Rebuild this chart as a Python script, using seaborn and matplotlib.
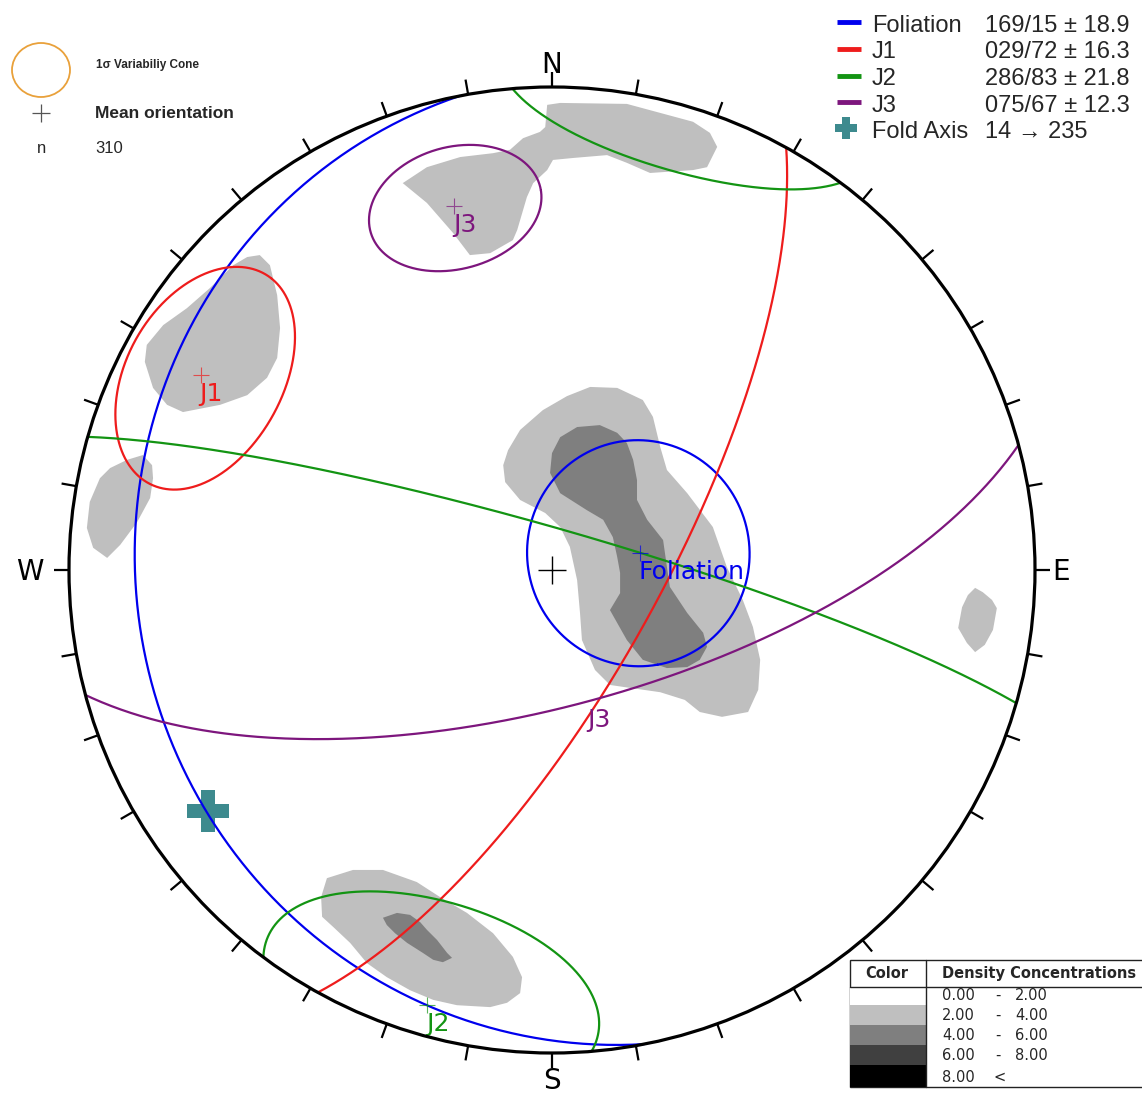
import numpy as np
import matplotlib
matplotlib.use("Agg")
import matplotlib.pyplot as plt
import seaborn as sns
from matplotlib.patches import Circle, Ellipse, Rectangle

# ---------------------------------------------------------------------------
# Mean planes (strike / dip, right-hand rule) and 1-sigma cone half-angles
plane_names = ["Foliation", "J1", "J2", "J3"]
plane_strike = [169, 29, 286, 75]
plane_dip = [15, 72, 83, 67]
cone_sigma = [18.9, 16.3, 21.8, 12.3]
plane_colors = ["#0000ee", "#ee1c1c", "#139413", "#7d167d"]

# Fold axis (plunge -> trend)
fold_plunge = 14
fold_trend = 235
fold_color = "#3d8a8e"

n_poles = 310

# Density classes
density_low = [0.00, 2.00, 4.00, 6.00, 8.00]
density_high = [2.00, 4.00, 6.00, 8.00, None]
density_colors = ["#ffffff", "#bfbfbf", "#7f7f7f", "#404040", "#000000"]

# Density contour outlines, equal-area net coordinates (primitive radius = 1)
contours_2_4 = [
    # N cluster joined to the J3 cluster
    [(-0.010, 0.963), (0.017, 0.967), (0.155, 0.965), (0.292, 0.928), (0.327, 0.905),
     (0.342, 0.876), (0.321, 0.834), (0.292, 0.828), (0.203, 0.822), (0.155, 0.843),
     (0.114, 0.859), (0.043, 0.853), (0.002, 0.849), (-0.010, 0.828), (-0.039, 0.801),
     (-0.052, 0.772), (-0.072, 0.704), (-0.081, 0.683), (-0.128, 0.656), (-0.170, 0.652),
     (-0.205, 0.698), (-0.259, 0.760), (-0.309, 0.801), (-0.259, 0.834), (-0.190, 0.855),
     (-0.122, 0.863), (-0.087, 0.870), (-0.060, 0.894), (-0.025, 0.907), (-0.014, 0.917)],
    # J1 cluster
    [(-0.605, 0.652), (-0.584, 0.631), (-0.569, 0.569), (-0.563, 0.501), (-0.569, 0.439),
     (-0.590, 0.398), (-0.631, 0.362), (-0.687, 0.342), (-0.764, 0.327), (-0.797, 0.342),
     (-0.826, 0.377), (-0.843, 0.431), (-0.839, 0.466), (-0.805, 0.507), (-0.756, 0.542),
     (-0.708, 0.584), (-0.660, 0.631), (-0.631, 0.648)],
    # W cluster
    [(-0.847, 0.238), (-0.828, 0.217), (-0.826, 0.190), (-0.832, 0.149), (-0.859, 0.099),
     (-0.894, 0.052), (-0.921, 0.025), (-0.950, 0.046), (-0.963, 0.087), (-0.957, 0.141),
     (-0.936, 0.190), (-0.915, 0.211), (-0.880, 0.228)],
    # E cluster
    [(0.876, -0.037), (0.892, -0.046), (0.911, -0.062), (0.921, -0.079), (0.913, -0.124),
     (0.896, -0.155), (0.876, -0.170), (0.859, -0.151), (0.841, -0.120), (0.849, -0.077),
     (0.861, -0.052)],
    # S cluster (J2)
    [(-0.466, -0.638), (-0.412, -0.621), (-0.350, -0.621), (-0.280, -0.646), (-0.232, -0.677),
     (-0.176, -0.710), (-0.122, -0.752), (-0.081, -0.801), (-0.062, -0.843), (-0.066, -0.876),
     (-0.093, -0.896), (-0.128, -0.905), (-0.197, -0.901), (-0.246, -0.890), (-0.294, -0.870),
     (-0.342, -0.843), (-0.383, -0.814), (-0.418, -0.772), (-0.453, -0.739), (-0.476, -0.718),
     (-0.478, -0.677)],
    # central cluster (foliation poles)
    [(0.079, 0.379), (0.135, 0.377), (0.188, 0.352), (0.209, 0.317), (0.224, 0.255),
     (0.238, 0.207), (0.280, 0.159), (0.333, 0.089), (0.362, 0.006), (0.395, -0.062),
     (0.416, -0.118), (0.431, -0.186), (0.427, -0.248), (0.406, -0.294), (0.352, -0.304),
     (0.306, -0.294), (0.275, -0.269), (0.224, -0.253), (0.161, -0.244), (0.120, -0.238),
     (0.089, -0.207), (0.062, -0.145), (0.058, -0.089), (0.052, -0.021), (0.037, 0.048),
     (0.017, 0.089), (-0.014, 0.118), (-0.066, 0.145), (-0.097, 0.182), (-0.101, 0.217),
     (-0.091, 0.248), (-0.066, 0.290), (-0.019, 0.331), (0.031, 0.360)],
]
contours_4_6 = [
    [(0.052, 0.296), (0.099, 0.300), (0.135, 0.284), (0.155, 0.263), (0.168, 0.228),
     (0.176, 0.186), (0.176, 0.145), (0.197, 0.104), (0.230, 0.062), (0.238, 0.006),
     (0.244, -0.035), (0.280, -0.089), (0.313, -0.130), (0.321, -0.159), (0.306, -0.186),
     (0.280, -0.201), (0.238, -0.203), (0.188, -0.186), (0.155, -0.145), (0.120, -0.083),
     (0.141, -0.048), (0.141, -0.006), (0.135, 0.027), (0.126, 0.068), (0.106, 0.104),
     (0.072, 0.124), (0.017, 0.159), (-0.004, 0.201), (0.000, 0.242), (0.017, 0.275)],
    [(-0.350, -0.720), (-0.321, -0.710), (-0.294, -0.714), (-0.273, -0.729), (-0.259, -0.745),
     (-0.238, -0.766), (-0.217, -0.793), (-0.207, -0.803), (-0.226, -0.812), (-0.246, -0.807),
     (-0.267, -0.793), (-0.300, -0.772), (-0.325, -0.752), (-0.342, -0.735)],
]


# ---------------------------------------------------------------------------
# Equal-area (Schmidt) lower-hemisphere projection helpers
def dir_vec(trend, plunge):
    t, p = np.radians(trend), np.radians(plunge)
    return np.array([np.cos(p) * np.sin(t), np.cos(p) * np.cos(t), np.sin(p)])


def schmidt(v):
    e, n, d = v
    s = 1.0 / np.sqrt(1.0 + d)
    return e * s, n * s


def great_circle(strike, dip, n=361):
    th = np.linspace(0, np.pi, n)
    s = dir_vec(strike, 0)
    dv = dir_vec(strike + 90, dip)
    v = np.outer(s, np.cos(th)) + np.outer(dv, np.sin(th))
    return schmidt(v)


def small_circle(trend, plunge, angle, n=1440):
    p = dir_vec(trend, plunge)
    a = np.cross(p, [0.0, 0.0, 1.0])
    a /= np.linalg.norm(a)
    b = np.cross(p, a)
    th = np.linspace(0, 2 * np.pi, n, endpoint=False)
    ang = np.radians(angle)
    v = np.cos(ang) * p[:, None] + np.sin(ang) * (np.outer(a, np.cos(th)) + np.outer(b, np.sin(th)))
    up = v[2] < 0
    v[:, up] *= -1
    if up.any() and not up.all():
        k = int(np.argmax(up != np.roll(up, 1)))
        v = np.roll(v, -k, axis=1)
        up = np.roll(up, -k)
        breaks = np.where(up[1:] != up[:-1])[0] + 1
        pieces = np.split(np.arange(n), breaks)
    else:
        pieces = [np.r_[np.arange(n), 0]]
    return [schmidt(v[:, idx]) for idx in pieces]


# pixel-layout helper (figure is 1142 x 1095, net centre and radius in pixels)
CX, CY, RPX = 552, 570, 483


def P(x, y):
    return (x - CX) / RPX, (CY - y) / RPX


# ---------------------------------------------------------------------------
sns.set_theme(style="white")
plt.rcParams["font.family"] = ["DejaVu Sans"]
ARIAL = ["Liberation Sans", "DejaVu Sans"]

fig = plt.figure(figsize=(11.42, 10.95), dpi=100)
ax = fig.add_axes([0, 0, 1, 1])
ax.set_xlim(-CX / RPX, (1142 - CX) / RPX)
ax.set_ylim(-(1095 - CY) / RPX, CY / RPX)
ax.axis("off")

# density contours
for poly in contours_2_4:
    xs, ys = zip(*poly)
    ax.fill(xs, ys, color=density_colors[1], lw=0, zorder=1)
for poly in contours_4_6:
    xs, ys = zip(*poly)
    ax.fill(xs, ys, color=density_colors[2], lw=0, zorder=2)

# fold axis
fx, fy = schmidt(dir_vec(fold_trend, fold_plunge)[:, None])
ax.plot(fx, fy, marker="P", ms=30, color=fold_color, mew=0, zorder=3)

# great circles, poles and cones
for name, strike, dip, sig, col in zip(plane_names, plane_strike, plane_dip, cone_sigma, plane_colors):
    gx, gy = great_circle(strike, dip)
    sns.lineplot(x=gx, y=gy, sort=False, estimator=None, color=col, lw=1.6, ax=ax, legend=False, zorder=4)
    ptr, ppl = (strike - 90) % 360, 90 - dip
    for cx_, cy_ in small_circle(ptr, ppl, sig):
        sns.lineplot(x=cx_, y=cy_, sort=False, estimator=None, color=col, lw=1.6, ax=ax, legend=False, zorder=4)
    px_, py_ = schmidt(dir_vec(ptr, ppl)[:, None])
    ax.plot(px_, py_, marker="+", ms=11, mew=0.8, color=col, alpha=0.7, zorder=5)
    ax.annotate(name, xy=(px_[0], py_[0]), xytext=(-1, -5), textcoords="offset points",
                ha="left", va="top", fontsize=18, color=col, zorder=6)

# J1 / J3 intersection label
l13 = np.cross(dir_vec((plane_strike[1] - 90) % 360, 90 - plane_dip[1]),
               dir_vec((plane_strike[3] - 90) % 360, 90 - plane_dip[3]))
if l13[2] < 0:
    l13 = -l13
l13 /= np.linalg.norm(l13)
ix, iy = schmidt(l13[:, None])
ax.annotate("J3", xy=(ix[0], iy[0]), xytext=(-1, -7), textcoords="offset points",
            ha="center", va="top", fontsize=18, color=plane_colors[3], zorder=6)

# mean orientation mark at the centre
ax.plot(0, 0, marker="+", ms=20, mew=1.0, color="black", zorder=6)

# primitive circle with 10-degree ticks
ax.add_patch(Circle((0, 0), 1.0, fill=False, lw=2.3, color="black", zorder=7))
for az in range(0, 360, 10):
    s, c = np.sin(np.radians(az)), np.cos(np.radians(az))
    ax.plot([s, 1.031 * s], [c, 1.031 * c], color="black", lw=1.6, zorder=7, solid_capstyle="butt")

for lab, (x, y), ha in [("N", (552, 73), "center"), ("S", (552, 1089), "center"),
                        ("W", (44, 580), "right"), ("E", (1052, 580), "left")]:
    ax.text(*P(x, y), lab, ha=ha, va="baseline", fontsize=20, color="black")

# top-left key
ax.add_patch(Ellipse(P(41, 70), 58 / RPX, 54 / RPX, fill=False, lw=1.3, color="#e9a13b"))
ax.text(*P(96, 68), "1σ Variabiliy Cone", family=ARIAL, fontweight="bold", fontsize=8.5,
        va="baseline", ha="left")
ax.plot(*P(41, 113), marker="+", ms=13, mew=0.9, color="#555555")
ax.text(*P(95, 118), "Mean orientation", family=ARIAL, fontweight="bold", fontsize=12.5,
        va="baseline", ha="left")
ax.text(*P(42, 153), "n", family=ARIAL, fontsize=12, va="baseline", ha="center")
ax.text(*P(95, 153), str(n_poles), family=ARIAL, fontsize=12, va="baseline", ha="left")

# top-right key
rows = [31.5, 58.2, 85.0, 111.5]
for name, strike, dip, sig, col, yb in zip(plane_names, plane_strike, plane_dip, cone_sigma, plane_colors, rows):
    x0, yl = P(837, yb - 9.5)
    x1, _ = P(861, yb - 9.5)
    ax.plot([x0, x1], [yl, yl], color=col, lw=3.5, solid_capstyle="butt")
    ax.text(*P(872, yb), name, family=ARIAL, fontsize=17, va="baseline", ha="left")
    ax.text(*P(985, yb), f"{strike:03d}/{dip:02d} ± {sig}", family=ARIAL, fontsize=17,
            va="baseline", ha="left")
ax.plot(*P(846, 128), marker="P", ms=16, color=fold_color, mew=0)
ax.text(*P(872, 137.5), "Fold Axis", family=ARIAL, fontsize=17, va="baseline", ha="left")
ax.text(*P(985, 137.5), f"{fold_plunge} → {fold_trend}", family=ARIAL, fontsize=17,
        va="baseline", ha="left")

# density table
tl, tr, tt, tb = 850, 1150, 960, 1087
ax.add_patch(Rectangle(P(tl, tb), (tr - tl) / RPX, (tb - tt) / RPX, fill=True,
                       facecolor="white", edgecolor="#222222", lw=1.0, zorder=8))
row_edges = [987, 1005, 1025, 1045, 1065, 1087]
for i, colr in enumerate(density_colors):
    y0, y1 = row_edges[i], row_edges[i + 1]
    ax.add_patch(Rectangle(P(tl, y1), (926 - tl) / RPX, (y1 - y0) / RPX, facecolor=colr,
                           edgecolor="none", zorder=9))
    lo, hi = density_low[i], density_high[i]
    yb = y1 - 5
    ax.text(*P(942, yb), f"{lo:.2f}", fontsize=10.5, va="baseline", ha="left", zorder=10)
    if hi is None:
        ax.text(*P(1000, yb), "<", fontsize=10.5, va="baseline", ha="center", zorder=10)
    else:
        ax.text(*P(998, yb), "-", fontsize=10.5, va="baseline", ha="center", zorder=10)
        ax.text(*P(1015, yb), f"{hi:.2f}", fontsize=10.5, va="baseline", ha="left", zorder=10)
xa, ya = P(tl, 987)
xb, _ = P(tr, 987)
ax.plot([xa, xb], [ya, ya], color="#222222", lw=1.0, zorder=10)
xc, yt = P(926, tt)
_, ybt = P(926, tb)
ax.plot([xc, xc], [yt, ybt], color="#222222", lw=1.0, zorder=10)
ax.text(*P(887, 978), "Color", fontsize=10.5, fontweight="bold", va="baseline", ha="center", zorder=10)
ax.text(*P(942, 978), "Density Concentrations", fontsize=10.5, fontweight="bold",
        va="baseline", ha="left", zorder=10)

fig.savefig("out.png", dpi=100)
